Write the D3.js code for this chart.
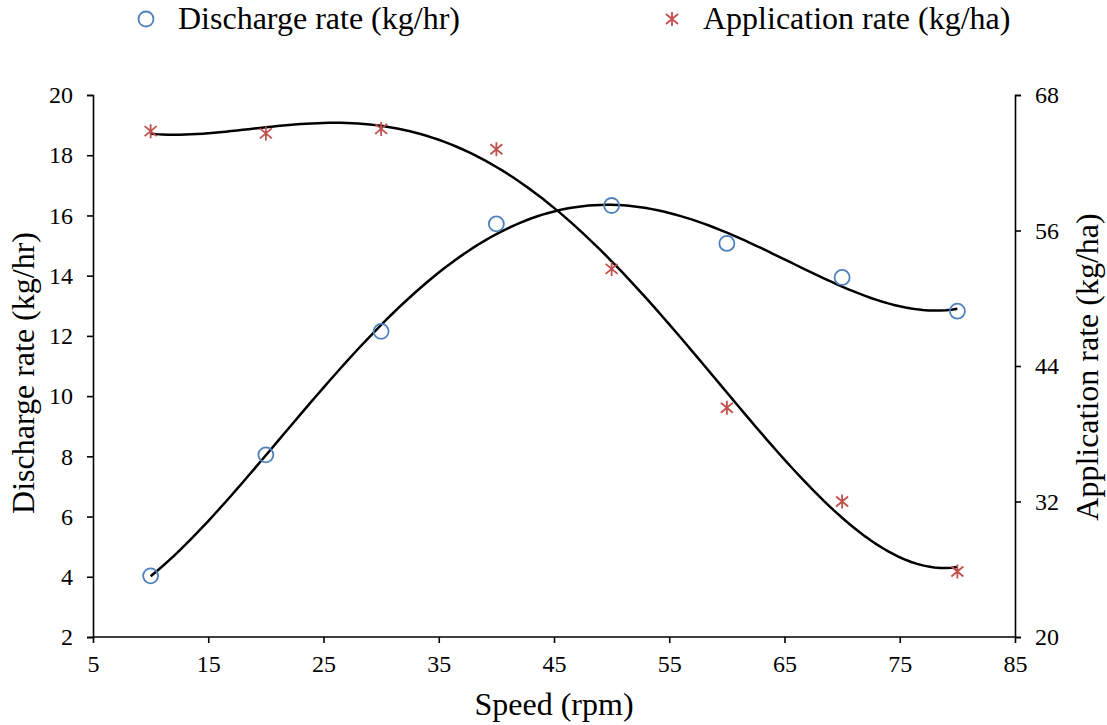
<!DOCTYPE html>
<html>
<head>
<meta charset="utf-8">
<script src="https://cdn.jsdelivr.net/npm/d3@7"></script>
<style>
  body { margin: 0; background: #fff; }
  svg text { font-family: "Liberation Serif", "Times New Roman", serif; fill: #000; }
  .axis path, .axis line { stroke: #000; stroke-width: 1.6; }
  .axis text { font-size: 24px; font-family: "Liberation Serif", "Times New Roman", serif; }
</style>
</head>
<body>
<svg id="chart" width="1107" height="725"></svg>
<script>
const speeds = [10, 20, 30, 40, 50, 60, 70, 80];
const discharge = [4.03, 8.05, 12.15, 15.72, 16.33, 15.07, 13.94, 12.82];
const application = [64.8, 64.6, 65.0, 63.2, 52.6, 40.3, 32.0, 25.8];
const xTicks = [5, 15, 25, 35, 45, 55, 65, 75, 85];
const leftTicks = [2, 4, 6, 8, 10, 12, 14, 16, 18, 20];
const rightTicks = [20, 32, 44, 56, 68];

const svg = d3.select("#chart");
const margin = { top: 95, right: 92, bottom: 88, left: 93 };
const width = 1107 - margin.left - margin.right;
const height = 725 - margin.top - margin.bottom;

const x = d3.scaleLinear().domain([5, 85]).range([margin.left, margin.left + width]);
const yL = d3.scaleLinear().domain([2, 20]).range([margin.top + height, margin.top]);
const yR = d3.scaleLinear().domain([20, 68]).range([margin.top + height, margin.top]);

// least squares polynomial (trendline like the spreadsheet one)
function polyFit(xs, ys, deg) {
  const n = deg + 1;
  const A = [];
  for (let i = 0; i < n; i++) {
    A.push(new Array(n + 1).fill(0));
    for (let j = 0; j < n; j++) A[i][j] = d3.sum(xs, v => Math.pow(v, i + j));
    A[i][n] = d3.sum(xs, (v, k) => ys[k] * Math.pow(v, i));
  }
  for (let c = 0; c < n; c++) {
    let p = c;
    for (let r = c + 1; r < n; r++) if (Math.abs(A[r][c]) > Math.abs(A[p][c])) p = r;
    [A[c], A[p]] = [A[p], A[c]];
    for (let r = 0; r < n; r++) {
      if (r === c) continue;
      const f = A[r][c] / A[c][c];
      for (let k = c; k <= n; k++) A[r][k] -= f * A[c][k];
    }
  }
  const coef = A.map((row, i) => row[n] / row[i]);
  return v => coef.reduce((s, c, i) => s + c * Math.pow(v, i), 0);
}

// 4th order trendlines
const fitD = polyFit(speeds, discharge, 4);
const fitA = polyFit(speeds, application, 4);
const xs = d3.range(10, 80.01, 0.5);

// Axes
svg.append("g")
  .attr("class", "axis")
  .attr("transform", `translate(0,${margin.top + height})`)
  .call(d3.axisBottom(x).tickValues(xTicks).tickSize(6).tickPadding(12))
  .call(g => g.select(".domain").attr("d", `M${margin.left},0H${margin.left + width}`))
  .call(g => g.selectAll("text").attr("dy", "0.71em"));

svg.append("g")
  .attr("class", "axis")
  .attr("transform", `translate(${margin.left},0)`)
  .call(d3.axisLeft(yL).tickValues(leftTicks).tickSize(6).tickPadding(14));

svg.append("g")
  .attr("class", "axis")
  .attr("transform", `translate(${margin.left + width},0)`)
  .call(d3.axisRight(yR).tickValues(rightTicks).tickSize(6).tickPadding(14));

// Trendlines
const lineD = d3.line().x(d => x(d)).y(d => yL(fitD(d)));
const lineA = d3.line().x(d => x(d)).y(d => yR(fitA(d)));

svg.append("path").datum(xs)
  .attr("fill", "none").attr("stroke", "#000").attr("stroke-width", 2.5)
  .attr("d", lineD);
svg.append("path").datum(xs)
  .attr("fill", "none").attr("stroke", "#000").attr("stroke-width", 2.5)
  .attr("d", lineA);

// Markers
const blue = "#4F81BD";
const red = "#C0504D";

svg.selectAll(".dis-pt")
  .data(speeds)
  .enter().append("circle")
  .attr("class", "dis-pt")
  .attr("cx", d => x(d))
  .attr("cy", (d, i) => yL(discharge[i]))
  .attr("r", 7.5)
  .attr("fill", "none")
  .attr("stroke", blue)
  .attr("stroke-width", 1.8);

const star = "M-6,-5L6,5M-6,5L6,-5M0,-7L0,7";
svg.selectAll(".app-pt")
  .data(speeds)
  .enter().append("path")
  .attr("class", "app-pt")
  .attr("transform", (d, i) => `translate(${x(d)},${yR(application[i])})`)
  .attr("d", star)
  .attr("fill", "none")
  .attr("stroke", red)
  .attr("stroke-width", 1.8);

// Axis titles
svg.append("text")
  .attr("x", margin.left + width / 2)
  .attr("y", 715)
  .attr("text-anchor", "middle")
  .attr("font-size", 32)
  .text("Speed (rpm)");

svg.append("text")
  .attr("transform", `translate(34,373) rotate(-90)`)
  .attr("text-anchor", "middle")
  .attr("font-size", 32)
  .text("Discharge rate (kg/hr)");

svg.append("text")
  .attr("transform", `translate(1098,367) rotate(-90)`)
  .attr("text-anchor", "middle")
  .attr("font-size", 32)
  .text("Application rate (kg/ha)");

// Legend
svg.append("circle")
  .attr("cx", 146).attr("cy", 19).attr("r", 7.5)
  .attr("fill", "none").attr("stroke", blue).attr("stroke-width", 1.8);
svg.append("text")
  .attr("x", 178).attr("y", 29)
  .attr("font-size", 32)
  .text("Discharge rate (kg/hr)");

svg.append("path")
  .attr("transform", "translate(672,19)")
  .attr("d", star)
  .attr("fill", "none").attr("stroke", red).attr("stroke-width", 1.8);
svg.append("text")
  .attr("x", 703).attr("y", 29)
  .attr("font-size", 32)
  .text("Application rate (kg/ha)");
</script>
</body>
</html>
